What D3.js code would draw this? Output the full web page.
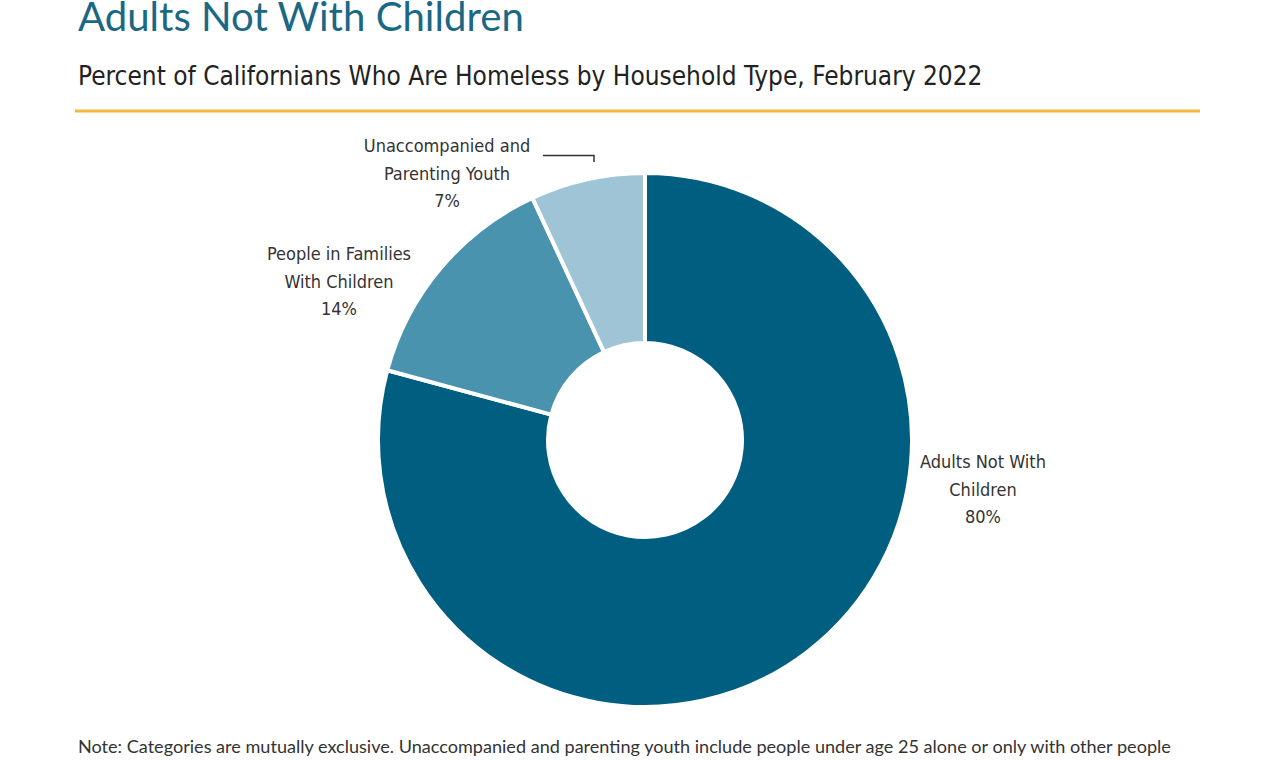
<!DOCTYPE html>
<html><head><meta charset="utf-8">
<script src="https://cdn.jsdelivr.net/npm/d3@7"></script>
<style>body{margin:0;background:#fff}svg{display:block}</style>
</head><body>
<svg id="c" width="1278" height="760"></svg>
<script>
const categories = ["Adults Not With Children", "People in Families With Children", "Unaccompanied and Parenting Youth"];
const values = [80, 14, 7];
const labelLines = [["Adults Not With", "Children", "80%"], ["People in Families", "With Children", "14%"], ["Unaccompanied and", "Parenting Youth", "7%"]];
const colors = ["#005e80", "#4a93ae", "#9fc4d5"];
const title = "Adults Not With Children";
const subtitle = "Percent of Californians Who Are Homeless by Household Type, February 2022";
const note = "Note: Categories are mutually exclusive. Unaccompanied and parenting youth include people under age 25 alone or only with other people";

const svg = d3.select("#c");
const cond = "'Liberation Sans Narrow','DejaVu Sans Condensed','Open Sans',sans-serif";

function fitText(sel, w) {
  const len = sel.node().getComputedTextLength();
  const fs = parseFloat(sel.attr("font-size"));
  sel.attr("font-size", fs * w / len);
}

const t = svg.append("text").attr("x", 78).attr("y", 31).attr("font-family", "Lato,'Open Sans',sans-serif")
  .attr("font-size", 36).attr("fill", "#1a6884").text(title);
fitText(t, 446);
const st = svg.append("text").attr("x", 78).attr("y", 85).attr("font-family", cond)
  .attr("font-size", 27).attr("fill", "#222").text(subtitle);
fitText(st, 905);
svg.append("line").attr("x1", 75).attr("x2", 1200).attr("y1", 111).attr("y2", 111)
  .attr("stroke", "#f0b83c").attr("stroke-width", 3);

const cx = 645, cy = 440, R = 267, r = 97;
const pie = d3.pie().sort(null).value(d => d)(values);
const arc = d3.arc().innerRadius(r).outerRadius(R);
const g = svg.append("g").attr("transform", `translate(${cx},${cy})`);
g.selectAll("path").data(pie).join("path").attr("d", arc)
  .attr("fill", (d, i) => colors[i]).attr("stroke", "#fff").attr("stroke-width", 4).attr("stroke-linejoin", "round");

const labelPos = [[983, 462], [339, 254], [447, 146]];
labelLines.forEach((lines, i) => {
  const tx = svg.append("text").attr("text-anchor", "middle").attr("font-family", cond)
    .attr("font-size", 18).attr("fill", "#333");
  lines.forEach((l, j) => tx.append("tspan").attr("x", labelPos[i][0]).attr("y", labelPos[i][1] + 6 + j * 27.5).text(l));
});
svg.append("path").attr("d", "M543,155.5H594V162").attr("fill", "none").attr("stroke", "#333").attr("stroke-width", 1.5);

const n = svg.append("text").attr("x", 78).attr("y", 753).attr("font-family", "Lato,'Open Sans',sans-serif")
  .attr("font-size", 15).attr("fill", "#333").text(note);
fitText(n, 1094);
</script>
</body></html>
